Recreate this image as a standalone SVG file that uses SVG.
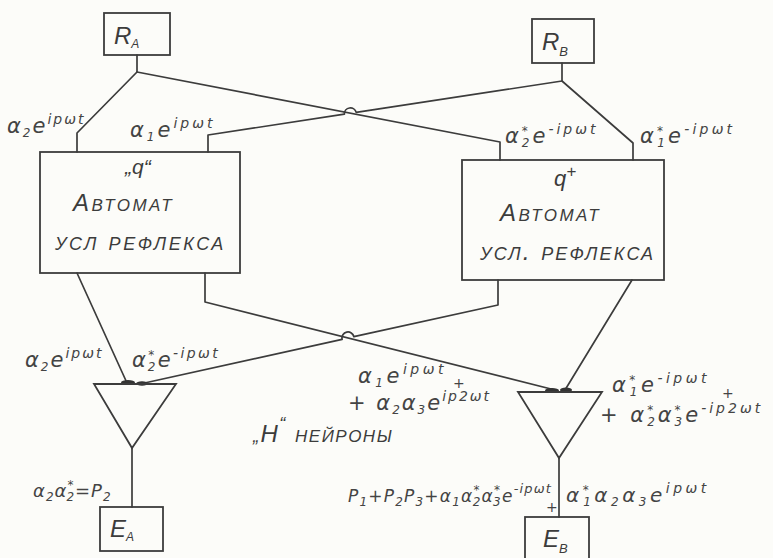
<svg xmlns="http://www.w3.org/2000/svg" width="773" height="558" viewBox="0 0 773 558">
<style>
.ln{fill:none;stroke:#3c3c3c;stroke-width:1.7;stroke-linejoin:round;stroke-linecap:round}
.bx{fill:none;stroke:#3c3c3c;stroke-width:1.8}
.f{font-family:"DejaVu Sans","Liberation Sans",sans-serif;font-style:italic;fill:#444}
.sp{font-size:14px}
.sb{font-size:12px}
.bt{font-family:"Liberation Sans",Arial,sans-serif;font-style:italic;fill:#3c3c3c;font-variant:small-caps}
.nv{font-variant:normal}
.dot{fill:#333}
</style>
<rect width="773" height="558" fill="#fcfcf9"/>

<g id="connectors">
  <path class="ln" d="M137,55 V72 L77,133 V152"/>
  <path class="ln" d="M137,72 L500,142 V160"/>
  <path class="ln" d="M562,63 V81 L633,143 V160"/>
  <path class="ln" d="M562,81 L356.2,112.4 A6,6 0 0 0 344.4,114.2 L208,135 V152"/>
  <path class="ln" d="M77,273 L127,383"/>
  <path class="ln" d="M205,273 V302 L555,390"/>
  <path class="ln" d="M498,280 V305 L353.9,336.7 A6,6 0 0 0 342.1,339.3 L140,384"/>
  <path class="ln" d="M632,280 L565,390"/>
  <path class="ln" d="M132,448 V507"/>
  <path class="ln" d="M559,458 V517"/>
  <ellipse class="dot" cx="128" cy="382.5" rx="7" ry="2.5"/>
  <ellipse class="dot" cx="142" cy="383.5" rx="6" ry="2.2"/>
  <ellipse class="dot" cx="552" cy="390.5" rx="7" ry="2.5"/>
  <ellipse class="dot" cx="566" cy="390" rx="6" ry="2.5"/>
</g>

<g id="RA">
  <rect class="bx" x="104" y="13" width="66" height="42"/>
  <text class="bt nv" x="114" y="44" font-size="24">R<tspan font-size="12" dy="4">A</tspan></text>
</g>
<g id="RB">
  <rect class="bx" x="532" y="19" width="62" height="44"/>
  <text class="bt nv" x="542" y="50" font-size="24">R<tspan font-size="13" dy="6">B</tspan></text>
</g>

<g id="automatL">
  <rect class="bx" x="40" y="152" width="200" height="121"/>
  <text class="bt nv" x="125" y="174" font-size="21">„q“</text>
  <text class="bt" x="73" y="211" font-size="24" letter-spacing="2.5">Автомат</text>
  <text class="bt" x="55" y="250" font-size="25" letter-spacing="2.6">усл рефлекса</text>
</g>
<g id="automatR">
  <rect class="bx" x="462" y="160" width="202" height="120"/>
  <text class="bt nv" x="554" y="186" font-size="22">q<tspan font-size="17" dy="-9">+</tspan></text>
  <text class="bt" x="500" y="221" font-size="24" letter-spacing="2.5">Автомат</text>
  <text class="bt" x="480" y="260" font-size="25" letter-spacing="2.2">усл. рефлекса</text>
</g>

<g id="neuronA">
  <path class="bx" d="M94,384 H176 L132,448 Z"/>
</g>
<g id="neuronB">
  <path class="bx" d="M518,392 H602 L559,458 Z"/>
</g>

<g id="EA">
  <rect class="bx" x="100" y="507" width="63" height="44"/>
  <text class="bt nv" x="110" y="537" font-size="24">E<tspan font-size="12" dy="4">A</tspan></text>
</g>
<g id="EB">
  <rect class="bx" x="525" y="517" width="64" height="50"/>
  <text class="bt nv" x="543" y="547" font-size="24">E<tspan font-size="13" dy="6">B</tspan></text>
</g>

<g id="labels">
  <text class="f" x="7" y="133" style="font-size:21px;letter-spacing:2px">α<tspan class="sb" dy="4">2</tspan><tspan dy="-4">e</tspan><tspan class="sp" dy="-9">ipωt</tspan></text>
  <text class="f" x="130" y="137" style="font-size:21px;letter-spacing:3px">α<tspan class="sb" dy="4">1</tspan><tspan dy="-4">e</tspan><tspan class="sp" dy="-9">ipωt</tspan></text>
  <text class="f" x="505" y="143" style="font-size:21px;letter-spacing:3px">α<tspan class="sb" dy="-8">*</tspan><tspan class="sb" dy="12" dx="-9">2</tspan><tspan dy="-4">e</tspan><tspan class="sp" dy="-9">-ipωt</tspan></text>
  <text class="f" x="640" y="143" style="font-size:21px;letter-spacing:3.2px">α<tspan class="sb" dy="-8">*</tspan><tspan class="sb" dy="12" dx="-9">1</tspan><tspan dy="-4">e</tspan><tspan class="sp" dy="-9">-ipωt</tspan></text>

  <text class="f" x="25" y="367" style="font-size:21px;letter-spacing:2px">α<tspan class="sb" dy="4">2</tspan><tspan dy="-4">e</tspan><tspan class="sp" dy="-9">ipωt</tspan></text>
  <text class="f" x="132" y="367" style="font-size:21px;letter-spacing:2.4px">α<tspan class="sb" dy="-8">*</tspan><tspan class="sb" dy="12" dx="-9">2</tspan><tspan dy="-4">e</tspan><tspan class="sp" dy="-9">-ipωt</tspan></text>

  <text class="f" x="358" y="383" style="font-size:21px;letter-spacing:3.5px">α<tspan class="sb" dy="4">1</tspan><tspan dy="-4">e</tspan><tspan class="sp" dy="-9">ipωt</tspan></text>
  <text class="f" x="453" y="388" style="font-size:14px">+</text>
  <text class="f" x="348" y="410" style="font-size:21px;letter-spacing:2px">+ α<tspan class="sb" dy="4">2</tspan><tspan dy="-4">α</tspan><tspan class="sb" dy="4">3</tspan><tspan dy="-4">e</tspan><tspan class="sp" dy="-9">ip2ωt</tspan></text>

  <text class="f" x="612" y="392" style="font-size:21px;letter-spacing:3.5px">α<tspan class="sb" dy="-8">*</tspan><tspan class="sb" dy="12" dx="-9">1</tspan><tspan dy="-4">e</tspan><tspan class="sp" dy="-9">-ipωt</tspan></text>
  <text class="f" x="722" y="398" style="font-size:14px">+</text>
  <text class="f" x="600" y="422" style="font-size:21px;letter-spacing:3px">+ α<tspan class="sb" dy="-8">*</tspan><tspan class="sb" dy="12" dx="-9">2</tspan><tspan dy="-4">α</tspan><tspan class="sb" dy="-8">*</tspan><tspan class="sb" dy="12" dx="-9">3</tspan><tspan dy="-4">e</tspan><tspan class="sp" dy="-9">-ip2ωt</tspan></text>

  <text class="bt" x="253" y="442" font-size="24" letter-spacing="1.5"><tspan font-size="18">„</tspan><tspan class="nv">H</tspan><tspan font-size="18" dy="-12">“</tspan><tspan dy="12"> нейроны</tspan></text>

  <text class="f" x="33" y="497" style="font-size:18px;letter-spacing:1px">α<tspan class="sb" dy="4">2</tspan><tspan dy="-4">α</tspan><tspan class="sb" dy="-8">*</tspan><tspan class="sb" dy="12" dx="-8">2</tspan><tspan dy="-4">=P</tspan><tspan class="sb" dy="4">2</tspan></text>

  <text class="f" x="348" y="502" style="font-size:17px;letter-spacing:1.2px">P<tspan class="sb" dy="4">1</tspan><tspan dy="-4">+P</tspan><tspan class="sb" dy="4">2</tspan><tspan dy="-4">P</tspan><tspan class="sb" dy="4">3</tspan><tspan dy="-4">+α</tspan><tspan class="sb" dy="4">1</tspan><tspan dy="-4">α</tspan><tspan class="sb" dy="-8">*</tspan><tspan class="sb" dy="12" dx="-8">2</tspan><tspan dy="-4">α</tspan><tspan class="sb" dy="-8">*</tspan><tspan class="sb" dy="12" dx="-8">3</tspan><tspan dy="-4">e</tspan><tspan dy="-9" style="font-size:13px">-ipωt</tspan></text>
  <text class="f" x="546" y="512" style="font-size:14px">+</text>
  <text class="f" x="566" y="502" style="font-size:20px;letter-spacing:3.5px">α<tspan class="sb" dy="-8">*</tspan><tspan class="sb" dy="12" dx="-9">1</tspan><tspan dy="-4">α</tspan><tspan class="sb" dy="4">2</tspan><tspan dy="-4">α</tspan><tspan class="sb" dy="4">3</tspan><tspan dy="-4">e</tspan><tspan class="sp" dy="-9">ipωt</tspan></text>
</g>
</svg>
